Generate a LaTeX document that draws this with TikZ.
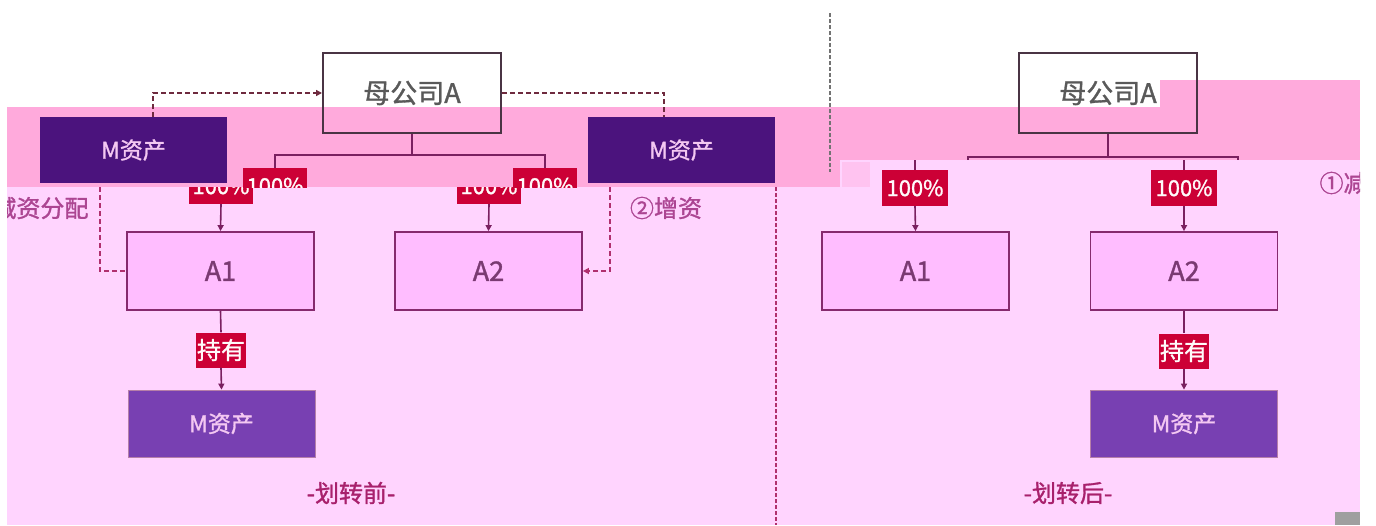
\documentclass[tikz,border=0pt]{standalone}
\usepackage{fontspec}
\setmainfont{Noto Sans CJK SC}[FakeBold=1.2]
\usetikzlibrary{arrows.meta}
\definecolor{lightpk}{HTML}{FFD4FE}
\definecolor{bandpk}{HTML}{FFAADC}
\definecolor{boxfill}{HTML}{FFBDFF}
\definecolor{boxline}{HTML}{862A6E}
\definecolor{darkM}{HTML}{4B137D}
\definecolor{midM}{HTML}{7840B2}
\definecolor{tagred}{HTML}{CC0036}
\definecolor{treeline}{HTML}{7A2060}
\definecolor{atext}{HTML}{7A3A72}
\definecolor{mtext}{HTML}{F4C8F2}
\definecolor{labc}{HTML}{AC4592}
\definecolor{titc}{HTML}{A8206C}
\definecolor{dshdark}{HTML}{6E2A3E}
\definecolor{dshpink}{HTML}{B0306E}
\definecolor{pbox}{HTML}{4A3444}
\tikzset{
  parentbox/.style={draw=pbox, line width=2pt, minimum width=178pt, minimum height=80pt, font=\fontsize{27}{27}\selectfont, text=black!65},
  abox/.style={draw=boxline, fill=boxfill, line width=1.8pt, minimum width=187pt, minimum height=78pt, font=\fontsize{27}{27}\selectfont, text=atext},
  mdark/.style={fill=darkM, minimum width=187pt, minimum height=66pt, font=\fontsize{23}{23}\selectfont, text=mtext},
  mmid/.style={fill=midM, draw=boxline!60, line width=0.8pt, minimum width=187pt, minimum height=67pt, font=\fontsize{23}{23}\selectfont, text=mtext},
  tagbox/.style={fill=tagred, minimum width=64pt, minimum height=36pt, inner sep=0pt, font=\fontsize{22}{22}\selectfont, text=white!92!pink},
  holdbox/.style={fill=tagred, minimum width=50pt, minimum height=35pt, inner sep=0pt, font=\fontsize{24}{24}\selectfont, text=white!92!pink},
  tree/.style={draw=treeline, line width=1.6pt},
  tarrow/.style={tree, -{Triangle[length=6pt,width=6pt]}},
  dshA/.style={draw=dshdark, line width=1.8pt, dash pattern=on 5pt off 3pt},
  dshB/.style={draw=dshpink, line width=1.8pt, dash pattern=on 5pt off 3pt},
  lab/.style={font=\fontsize{24}{24}\selectfont, text=labc},
  title/.style={font=\fontsize{24}{24}\selectfont, text=titc}
}
\begin{document}
\begin{tikzpicture}[x=1pt,y=-1pt]
\useasboundingbox (0,0) rectangle (1376,525);
\fill[white] (0,0) rectangle (1376,525);
% lower light region
\fill[lightpk] (7,187) rectangle (840,525);
\fill[lightpk] (840,160) rectangle (1360,525);
\fill[gray!75] (1335,512) rectangle (1360,525);

% ---------- lower region content (left half) ----------
\node[tagbox] (tl1) at (221,186) {100\%};
\node[tagbox] (tl2) at (489,186) {100\%};
\node[abox] (a1) at (220.5,271) {A1};
\node[abox] (a2) at (488.5,271) {A2};
\node[holdbox] (h1) at (221,350) {持有};
\node[mmid] (mb1) at (221.5,423.5) {M资产};
\draw[tarrow] (tl1.south) -- (a1.north);
\draw[tarrow] (tl2.south) -- (a2.north);
\draw[tree] (a1.south) -- (h1.north);
\draw[tarrow] (h1.south) -- (mb1.north);

\coordinate (dL) at (100,187);
\coordinate (dR) at (610,187);
\draw[dshB] (dL) |- (a1.west);
\draw[dshB, -{Triangle[length=6pt,width=6pt]}] (dR) |- (a2.east);
\coordinate (divTop) at (776,187);
\coordinate (divBot) at (776,525);
\draw[dshB, line width=1.5pt, dash pattern=on 4pt off 2pt] (divTop) -- (divBot);

\begin{scope}
\clip (7,0) rectangle (1360,525);
\node[lab, anchor=east] (lblL) at (92,208) {①减资分配};
\node[lab, anchor=west] (lblR) at (1316,183) {①减资分配};
\end{scope}
\node[lab] (lbl2) at (666,208) {②增资};
\node[title] (tt1) at (351,493) {-划转前-};
\node[title] (tt2) at (1068,493) {-划转后-};

% ---------- band ----------
\fill[bandpk] (7,107) rectangle (840,187);
\fill[bandpk] (840,107) rectangle (1360,160);
\fill[bandpk] (1160,80) rectangle (1360,107);
\fill[lightpk!60!bandpk] (842,162) rectangle (870,187);

% band content (left)
\begin{scope}
\clip (7,107) rectangle (840,187);
\node[tagbox] (tb1) at (275,186) {100\%};
\node[tagbox] (tb2) at (545,186) {100\%};
\end{scope}
\node[parentbox] (pL) at (412,93) {母公司A};
\coordinate (jL) at (412,155);
\draw[tree] (pL.south) -- (jL);
\draw[tree] (jL) -| (tb1.north);
\draw[tree] (jL) -| (tb2.north);
\node[mdark] (mL) at (133.5,150) {M资产};
\node[mdark] (mR) at (681.5,150) {M资产};
\coordinate (mLt) at (153,117);
\coordinate (mRt) at (664,117);
\draw[dshA, -{Triangle[length=6pt,width=6pt]}] (mLt) |- (pL.west);
\draw[dshA] (pL.east) -| (mRt);

% ---------- right half ----------
\coordinate (divTop2) at (830,13);
\coordinate (divBot2) at (830,172);
\draw[draw=black!55, line width=1.5pt, dash pattern=on 4pt off 2pt] (divTop2) -- (divBot2);

\node[parentbox] (pR) at (1108,93) {母公司A};
\coordinate (jR) at (1108,157);
\coordinate (sR1) at (968,160);
\coordinate (sR2) at (1238,160);
\draw[tree] (pR.south) -- (jR);
\draw[tree] (jR) -| (sR1);
\draw[tree] (jR) -| (sR2);

\node[tagbox, minimum width=66pt] (tr1) at (915,188) {100\%};
\node[tagbox, minimum width=66pt] (tr2) at (1184,188) {100\%};
\coordinate (cR1) at (915,160);
\coordinate (cR2) at (1184,160);
\draw[tree] (cR1) -- (tr1.north);
\draw[tree] (cR2) -- (tr2.north);
\node[abox] (b1) at (915.5,271) {A1};
\node[abox] (b2) at (1184,271) {A2};
\draw[tarrow] (tr1.south) -- (b1.north);
\draw[tarrow] (tr2.south) -- (b2.north);
\node[holdbox] (h2) at (1184,351) {持有};
\node[mmid] (mb2) at (1184,423.5) {M资产};
\draw[tree] (b2.south) -- (h2.north);
\draw[tarrow] (h2.south) -- (mb2.north);
\end{tikzpicture}
\end{document}
